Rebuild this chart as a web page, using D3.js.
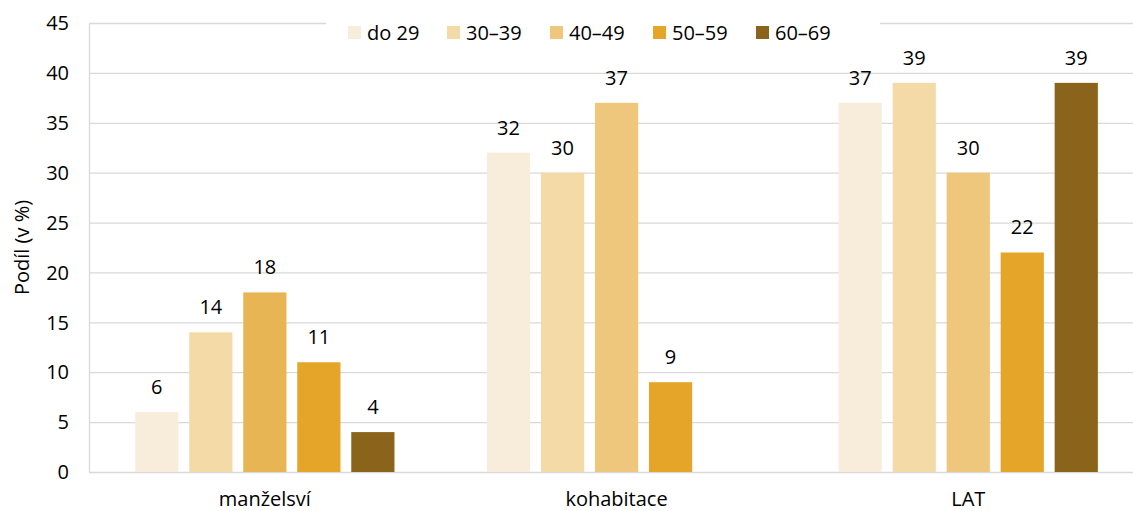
<!DOCTYPE html>
<html><head><meta charset="utf-8">
<script src="https://cdn.jsdelivr.net/npm/d3@7"></script>
<style>body{margin:0;background:#fff;} svg{display:block;} text{font-family:"Open Sans",Lato,sans-serif;fill:#000;}</style>
</head><body>
<svg id="c" width="1133" height="511"></svg>
<script>
const categories = ["manželsví", "kohabitace", "LAT"];
const seriesNames = ["do 29", "30–39", "40–49", "50–59", "60–69"];
const values = [
  [6, 14, 18, 11, 4],
  [32, 30, 37, 9, null],
  [37, 39, 30, 22, 39]
];
const yTicks = [0, 5, 10, 15, 20, 25, 30, 35, 40, 45];
const colors = ["#F8EDDA", "#F4DAA6", "#EEC67C", "#E5A529", "#8B641B"];
const colorOverride = {"manželsví|40–49": "#E8B554"};

(function () {
const svg = d3.select("#c");
const pLeft = 89, bandW = 351.7, pTop = 23, pBottom = 472;
const fs = 20;
const x0 = d3.scaleBand().domain(categories).range([pLeft, pLeft + bandW * 3]).padding(0);
const x1 = d3.scaleBand().domain(seriesNames).range([0, x0.bandwidth()]).paddingInner(0.2).paddingOuter(0.856);
const y = d3.scaleLinear().domain([0, 45]).range([pBottom, pTop]);

svg.append("g").selectAll("line").data(yTicks).join("line")
  .attr("x1", pLeft).attr("x2", 1133)
  .attr("y1", d => y(d) + 0.5).attr("y2", d => y(d) + 0.5)
  .attr("stroke", "#D9D9D9").attr("stroke-width", 1.3);
svg.append("line").attr("x1", pLeft + 0.5).attr("x2", pLeft + 0.5).attr("y1", pTop).attr("y2", pBottom)
  .attr("stroke", "#D9D9D9").attr("stroke-width", 1.3);

svg.append("g").selectAll("text").data(yTicks).join("text")
  .attr("x", 69).attr("y", d => y(d)).attr("dy", "0.36em")
  .attr("text-anchor", "end").attr("font-size", fs).text(d => d);

svg.append("text").attr("transform", "translate(29," + ((pTop + pBottom) / 2) + ") rotate(-90)")
  .attr("text-anchor", "middle").attr("font-size", fs).text("Podíl (v %)");

const flat = [];
categories.forEach((c, i) => seriesNames.forEach((s, j) => {
  if (values[i][j] != null) flat.push({c, s, v: values[i][j], j});
}));
svg.append("g").selectAll("rect").data(flat).join("rect")
  .attr("x", d => x0(d.c) + x1(d.s))
  .attr("width", x1.bandwidth())
  .attr("y", d => y(d.v))
  .attr("height", d => y(0) - y(d.v))
  .attr("fill", d => colorOverride[d.c + "|" + d.s] || colors[d.j]);

svg.append("g").selectAll("text").data(flat).join("text")
  .attr("x", d => x0(d.c) + x1(d.s) + x1.bandwidth() / 2)
  .attr("y", d => y(d.v) - 18)
  .attr("text-anchor", "middle").attr("font-size", fs).text(d => d.v);

svg.append("g").selectAll("text").data(categories).join("text")
  .attr("x", d => x0(d) + x0.bandwidth() / 2).attr("y", 506)
  .attr("text-anchor", "middle").attr("font-size", fs).text(d => d);

const lg = svg.append("g");
lg.append("rect").attr("x", 326).attr("y", 14).attr("width", 554).attr("height", 36).attr("fill", "#fff");
const legX = [348, 447, 550, 653, 756];
seriesNames.forEach((s, j) => {
  lg.append("rect").attr("x", legX[j]).attr("y", 26).attr("width", 13).attr("height", 13).attr("fill", colors[j]);
  lg.append("text").attr("x", legX[j] + 19).attr("y", 33).attr("dy", "0.36em").attr("font-size", fs).text(s);
});
})();
</script>
</body></html>
